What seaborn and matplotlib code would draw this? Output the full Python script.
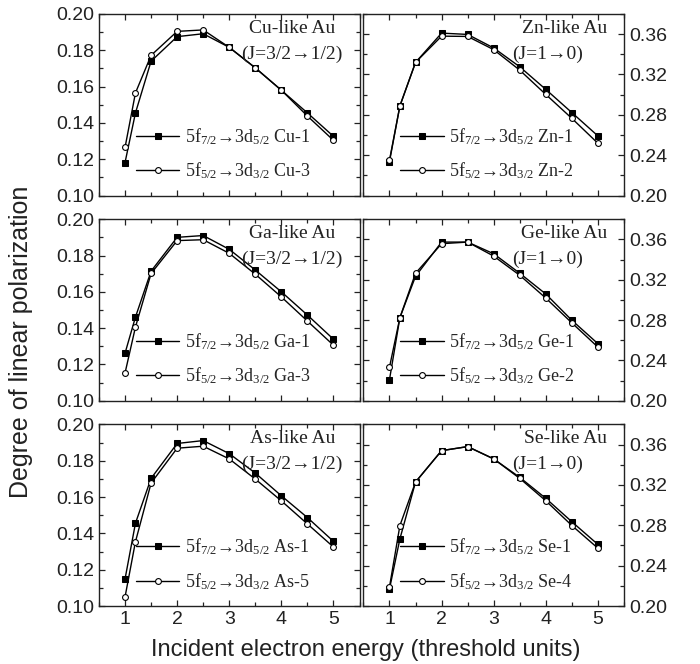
import numpy as np
import pandas as pd
import matplotlib
matplotlib.use('Agg')
import matplotlib.pyplot as plt
from matplotlib.ticker import MultipleLocator
import seaborn as sns

energy = [1, 1.2, 1.5, 2, 2.5, 3, 3.5, 4, 4.5, 5]

cu_1 = [0.1182, 0.1455, 0.1740, 0.1875, 0.1891, 0.1816, 0.1703, 0.1580, 0.1455, 0.1326]
cu_3 = [0.1265, 0.1565, 0.1772, 0.1904, 0.1912, 0.1816, 0.1703, 0.1580, 0.1438, 0.1304]
zn_1 = [0.2337, 0.2889, 0.3320, 0.3610, 0.3597, 0.3463, 0.3276, 0.3052, 0.2822, 0.2591]
zn_2 = [0.2351, 0.2889, 0.3320, 0.3580, 0.3577, 0.3446, 0.3243, 0.3002, 0.2765, 0.2518]
ga_1 = [0.1262, 0.1461, 0.1714, 0.1900, 0.1910, 0.1834, 0.1720, 0.1600, 0.1472, 0.1339]
ga_3 = [0.1153, 0.1406, 0.1701, 0.1882, 0.1887, 0.1812, 0.1697, 0.1572, 0.1439, 0.1306]
ge_1 = [0.2210, 0.2825, 0.3234, 0.3573, 0.3573, 0.3457, 0.3264, 0.3058, 0.2798, 0.2566]
ge_2 = [0.2333, 0.2825, 0.3264, 0.3557, 0.3573, 0.3434, 0.3244, 0.3018, 0.2772, 0.2532]
as_1 = [0.1149, 0.1456, 0.1703, 0.1895, 0.1911, 0.1839, 0.1732, 0.1607, 0.1487, 0.1356]
as_5 = [0.1050, 0.1354, 0.1677, 0.1869, 0.1880, 0.1810, 0.1699, 0.1579, 0.1452, 0.1325]
se_1 = [0.2169, 0.2666, 0.3229, 0.3540, 0.3580, 0.3458, 0.3275, 0.3067, 0.2835, 0.2610]
se_4 = [0.2189, 0.2798, 0.3229, 0.3540, 0.3580, 0.3458, 0.3265, 0.3043, 0.2798, 0.2573]

ions = ['Cu', 'Zn', 'Ga', 'Ge', 'As', 'Se']
second_labels = ['Cu-3', 'Zn-2', 'Ga-3', 'Ge-2', 'As-5', 'Se-4']
first_series = [cu_1, zn_1, ga_1, ge_1, as_1, se_1]
second_series = [cu_3, zn_2, ga_3, ge_2, as_5, se_4]
j_labels = ['(J=3/2→1/2)', '(J=1→0)'] * 3

sns.set_style('ticks')
plt.rcParams['font.family'] = ['Liberation Sans', 'DejaVu Sans']
plt.rcParams['mathtext.fontset'] = 'custom'
plt.rcParams['mathtext.rm'] = 'Liberation Serif'
plt.rcParams['mathtext.it'] = 'Liberation Serif:italic'
plt.rcParams['axes.edgecolor'] = '#222222'
plt.rcParams['axes.linewidth'] = 1.0

fig, axes = plt.subplots(3, 2, figsize=(7, 6.64), dpi=100)
fig.subplots_adjust(left=0.1414, right=0.8914, top=0.979, bottom=0.0873,
                    wspace=0.015, hspace=0.13)

serif = ['Liberation Serif', 'DejaVu Serif']

for i, ax in enumerate(axes.flat):
    ion = ions[i]
    right = (i % 2 == 1)
    df1 = pd.DataFrame({'x': energy, 'y': first_series[i]})
    df2 = pd.DataFrame({'x': energy, 'y': second_series[i]})
    lab1 = r'5f$_{\mathrm{7/2}}$→3d$_{\mathrm{5/2}}$ ' + f'{ion}-1'
    lab2 = r'5f$_{\mathrm{5/2}}$→3d$_{\mathrm{3/2}}$ ' + second_labels[i]
    sns.lineplot(data=df1, x='x', y='y', ax=ax, color='black', lw=1.0,
                 marker='s', markersize=4.2, markerfacecolor='black',
                 markeredgecolor='black', label=lab1)
    sns.lineplot(data=df2, x='x', y='y', ax=ax, color='black', lw=1.0,
                 marker='o', markersize=4.2, markerfacecolor='white',
                 markeredgecolor='black', markeredgewidth=0.8, label=lab2)

    ax.set_xlim(0.5, 5.5)
    ax.xaxis.set_major_locator(MultipleLocator(1))
    ax.xaxis.set_minor_locator(MultipleLocator(0.5))
    if right:
        ax.set_ylim(0.20, 0.38)
        ax.yaxis.set_major_locator(MultipleLocator(0.04))
        ax.yaxis.set_minor_locator(MultipleLocator(0.02))
        ax.tick_params(axis='y', which='both', labelleft=False, labelright=True)
    else:
        ax.set_ylim(0.10, 0.20)
        ax.yaxis.set_major_locator(MultipleLocator(0.02))
        ax.yaxis.set_minor_locator(MultipleLocator(0.01))
    ax.yaxis.set_major_formatter(plt.FormatStrFormatter('%.2f'))
    ax.tick_params(which='both', direction='in', top=True, right=True,
                   left=True, bottom=True, labelsize=14, colors='#222222',
                   labelcolor='#222222')
    ax.tick_params(which='major', length=4, width=0.9)
    ax.tick_params(which='minor', length=3, width=0.9)
    if i < 4:
        ax.tick_params(axis='x', labelbottom=False)
    ax.set_xlabel('')
    ax.set_ylabel('')

    x1, x2 = (0.935, 0.842) if right else (0.908, 0.935)
    ax.text(x1, 0.92, f'{ion}-like Au', transform=ax.transAxes, ha='right',
            va='center', fontsize=14, family=serif, color='#222222')
    ax.text(x2, 0.78, j_labels[i], transform=ax.transAxes, ha='right',
            va='center', fontsize=14, family=serif, color='#222222')

    ax.legend(loc='lower left', bbox_to_anchor=(0.1, 0.02), frameon=False,
              prop={'family': serif, 'size': 13}, handlelength=2.4,
              labelspacing=0.75, handletextpad=0.3, borderaxespad=0.2)

fig.text(0.523, 0.021, 'Incident electron energy (threshold units)',
         ha='center', va='center', fontsize=17, color='#222222')
fig.text(0.03, 0.485, 'Degree of linear polarization', rotation=90,
         ha='center', va='center', fontsize=18, color='#222222')

fig.savefig('out.png', dpi=100)
